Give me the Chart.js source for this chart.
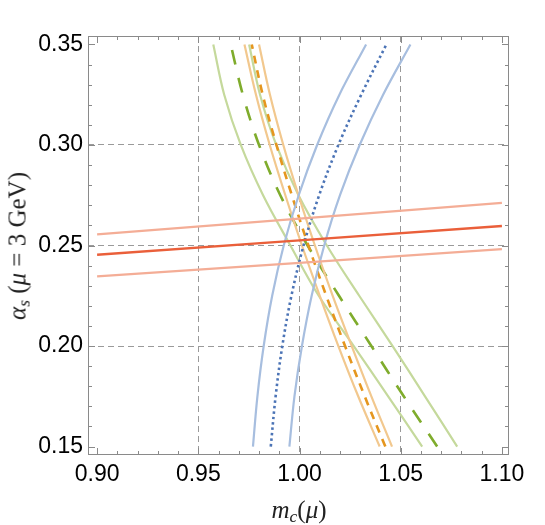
<!DOCTYPE html>
<html>
<head>
<meta charset="utf-8">
<script src="https://cdn.jsdelivr.net/npm/chart.js@4.4.0/dist/chart.umd.min.js"></script>
<style>
  html, body { margin: 0; padding: 0; background: #fff; }
  #wrap { position: relative; width: 545px; height: 525px; }
  #wrap canvas { position: absolute; left: 0; top: 0; }
  .ttl { position: absolute; font-family: 'Liberation Serif', 'DejaVu Serif', serif; font-size: 25px; color: #222; white-space: nowrap; line-height: 1; }
  .ttl sub { font-size: 0.7em; vertical-align: -0.25em; line-height: 0; }
  #xtitle { left: 299px; top: 497px; transform: translateX(-50%); }
  #ytitle { left: 17px; top: 246px; transform: translate(-50%, -50%) rotate(-90deg); }
</style>
</head>
<body>
<div id="wrap">
  <canvas id="chart" width="545" height="525"></canvas>
  <div class="ttl" id="xtitle"><i>m</i><sub><i>c</i></sub>(<i>μ</i>)</div>
  <div class="ttl" id="ytitle"><i>α</i><sub><i>s</i></sub> (<i>μ</i> = 3 GeV)</div>
</div>
<script>
// ── data ─────────────────────────────────────────────────────
// alpha_s levels at which the m_c bands were sampled
const alphaLevels = [0.15, 0.175, 0.20, 0.225, 0.25, 0.275, 0.30, 0.325, 0.35];

// blue band (rising)
const blueLow  = [0.9770, 0.9792, 0.9823, 0.9865, 0.9922, 0.9996, 1.0087, 1.0197, 1.0329];
const blueMid  = [0.9858, 0.9882, 0.9915, 0.9960, 1.0020, 1.0097, 1.0192, 1.0305, 1.0429];
const blueHigh = [0.9950, 0.9975, 1.0012, 1.0060, 1.0122, 1.0200, 1.0297, 1.0413, 1.0548];

// orange band (falling)
const orangeLow  = [1.0396, 1.0290, 1.0192, 1.0100, 1.0012, 0.9930, 0.9853, 0.9785, 0.9728];
const orangeMid  = [1.0424, 1.0322, 1.0225, 1.0132, 1.0044, 0.9962, 0.9886, 0.9818, 0.9764];
const orangeHigh = [1.0457, 1.0355, 1.0258, 1.0164, 1.0076, 0.9995, 0.9920, 0.9854, 0.9800];

// green band (falling)
const greenLow  = [1.0606, 1.0438, 1.0268, 1.0095, 0.9955, 0.9820, 0.9710, 0.9628, 0.9574];
const greenMid  = [1.0680, 1.0515, 1.0355, 1.0195, 1.0040, 0.9905, 0.9800, 0.9720, 0.9660];
const greenHigh = [1.0779, 1.0620, 1.0460, 1.0295, 1.0135, 0.9995, 0.9885, 0.9805, 0.9751];

// alpha_s band (nearly flat)
const mcRange      = [0.90, 1.10];
const alphaCentral = [0.2454, 0.2597];
const alphaUpper   = [0.2555, 0.2712];
const alphaLower   = [0.2346, 0.2482];

// axes
const xTicks = [0.90, 0.95, 1.00, 1.05, 1.10];
const yTicks = [0.15, 0.20, 0.25, 0.30, 0.35];
const xGrid  = [0.95, 1.00, 1.05];
const yGrid  = [0.20, 0.25, 0.30];

const X_MIN = 0.8955, X_MAX = 1.1035;
const Y_MIN = 0.1458, Y_MAX = 0.3542;

const byAlpha = xs => xs.map((x, i) => ({ x, y: alphaLevels[i] }));
const byMc    = ys => ys.map((y, i) => ({ x: mcRange[i], y }));

function line(data, color, width, dash) {
  return { data, borderColor: color, borderWidth: width, borderDash: dash || [],
           showLine: true, pointRadius: 0, tension: 0.35, fill: false };
}

const has = (list, v) => list.some(g => Math.abs(g - v) < 1e-9);
const tickFont = { family: "'Liberation Sans', Arial, sans-serif", size: 23 };

// frame + inward ticks, Mathematica style
const frameTicks = {
  id: 'frameTicks',
  afterDraw(chart) {
    const { ctx, chartArea: a, scales: { x, y } } = chart;
    ctx.save();
    ctx.strokeStyle = '#8a8a8a';
    ctx.lineWidth = 1;
    ctx.strokeRect(a.left + 0.5, a.top + 0.5, a.right - a.left - 1, a.bottom - a.top - 1);
    ctx.beginPath();
    for (let k = 90; k <= 110; k++) {
      const v = k / 100, len = k % 5 === 0 ? 7 : 4;
      const px = Math.round(x.getPixelForValue(v)) + 0.5;
      ctx.moveTo(px, a.bottom); ctx.lineTo(px, a.bottom - len);
      ctx.moveTo(px, a.top);    ctx.lineTo(px, a.top + len);
    }
    for (let k = 15; k <= 35; k++) {
      const v = k / 100, len = k % 5 === 0 ? 7 : 4;
      const py = Math.round(y.getPixelForValue(v)) + 0.5;
      ctx.moveTo(a.left, py);  ctx.lineTo(a.left + len, py);
      ctx.moveTo(a.right, py); ctx.lineTo(a.right - len, py);
    }
    ctx.stroke();
    ctx.restore();
  }
};

new Chart(document.getElementById('chart'), {
  type: 'scatter',
  data: {
    datasets: [
      line(byMc(alphaCentral), '#ea5f3a', 2.5),
      line(byMc(alphaUpper),   '#f4ad96', 2.2),
      line(byMc(alphaLower),   '#f4ad96', 2.2),
      line(byAlpha(blueLow),    '#a7bedf', 2.2),
      line(byAlpha(blueHigh),   '#a7bedf', 2.2),
      line(byAlpha(blueMid),    '#4c74b6', 2.6, [2.5, 3]),
      line(byAlpha(orangeLow),  '#f2c88e', 2.2),
      line(byAlpha(orangeHigh), '#f2c88e', 2.2),
      line(byAlpha(orangeMid),  '#e5961e', 2.6, [8, 7]),
      line(byAlpha(greenLow),   '#c5d99c', 2.2),
      line(byAlpha(greenHigh),  '#c5d99c', 2.2),
      line(byAlpha(greenMid),   '#7fac2c', 2.6, [15, 14])
    ]
  },
  options: {
    responsive: false,
    animation: false,
    layout: { padding: { top: 36, right: 36, left: 0, bottom: 0 } },
    plugins: { legend: { display: false }, tooltip: { enabled: false } },
    scales: {
      x: {
        type: 'linear', min: X_MIN, max: X_MAX,
        afterBuildTicks: s => { s.ticks = xTicks.map(v => ({ value: v })); },
        afterFit: s => { s.height = 70; },
        ticks: { callback: v => v.toFixed(2), font: tickFont, color: '#000', padding: 6, maxRotation: 0, autoSkip: false },
        grid: { color: c => (c.tick && has(xGrid, c.tick.value)) ? '#9a9a9a' : 'rgba(0,0,0,0)', drawTicks: false, lineWidth: 1 },
        border: { display: false, dash: [6, 4] }
      },
      y: {
        type: 'linear', min: Y_MIN, max: Y_MAX,
        afterBuildTicks: s => { s.ticks = yTicks.map(v => ({ value: v })); },
        afterFit: s => { s.width = 88; },
        ticks: { callback: v => v.toFixed(2), font: tickFont, color: '#000', padding: 5, autoSkip: false },
        grid: { color: c => (c.tick && has(yGrid, c.tick.value)) ? '#9a9a9a' : 'rgba(0,0,0,0)', drawTicks: false, lineWidth: 1 },
        border: { display: false, dash: [6, 4] }
      }
    }
  },
  plugins: [frameTicks]
});
</script>
</body>
</html>
